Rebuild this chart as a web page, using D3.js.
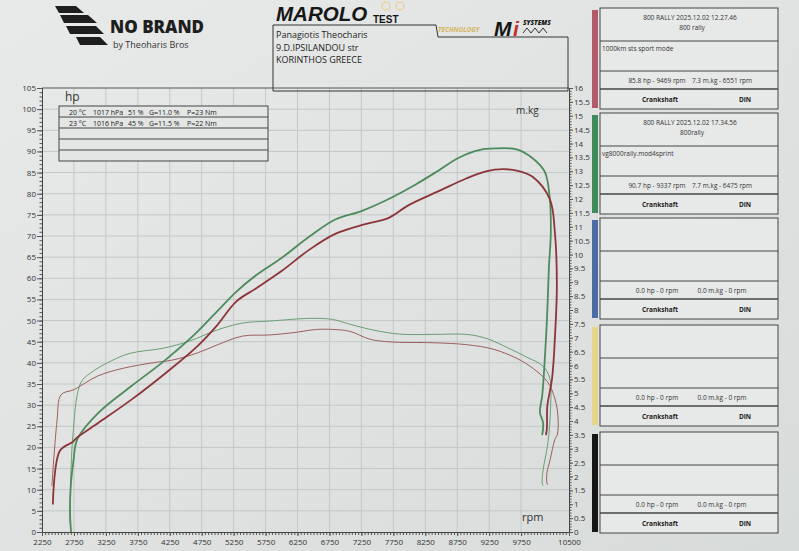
<!DOCTYPE html>
<html>
<head>
<meta charset="utf-8">
<script src="https://cdn.jsdelivr.net/npm/d3@7"></script>
<style>
body{margin:0;background:#dfe2e1;}
svg{display:block;font-family:"Open Sans",sans-serif;}
</style>
</head>
<body>
<svg id="chart" width="799" height="551"></svg>
<script>
// rpm / hp, run 1 (red) and run 2 (green)
const redPower = [[2420,6.5],[2530,19.2],[2730,21.3],[2805,22.4],[3140,25.9],[3650,31.3],[4260,38.5],[4680,43.9],[4980,48.7],[5290,54.5],[5600,57.6],[6000,61.7],[6420,66.6],[6840,70.5],[7310,72.8],[7680,74.3],[7990,77.3],[8460,80.6],[8890,83.6],[9200,85.3],[9469,85.8],[9700,85.4],[9930,84.0],[10200,78.7],[10280,70.6],[10310,58.3],[10280,46.1],[10235,36.3],[10160,29.7],[10155,24.8],[10140,22.9]];
const greenPower = [[2705,0],[2688,4.8],[2700,10.9],[2740,16.5],[2805,22.0],[3140,28.3],[3640,34.4],[4150,40.3],[4610,46.3],[4980,52.0],[5290,56.8],[5600,60.7],[6000,64.8],[6420,69.7],[6840,73.9],[7250,75.9],[7630,78.4],[8100,82.2],[8460,85.5],[8775,88.5],[9090,90.3],[9337,90.7],[9680,90.5],[9930,88.4],[10120,85.2],[10200,78.7],[10215,70.6],[10185,62.5],[10155,50.3],[10110,38.1],[10080,32.2],[10045,28.3],[10095,25.8],[10080,22.9]];
// rpm / m.kg
const redTorque = [[2405,1.65],[2485,4.0],[2550,4.95],[2750,5.13],[3120,5.62],[3520,5.9],[3990,6.1],[4300,6.2],[4680,6.45],[4990,6.74],[5390,7.06],[5810,7.1],[6175,7.18],[6551,7.3],[6800,7.3],[7070,7.23],[7380,6.95],[7700,6.85],[8370,6.82],[8900,6.75],[9310,6.59],[9690,6.25],[9940,5.89],[10160,5.42],[10280,4.8],[10330,4.07],[10315,3.49],[10280,3.34],[10205,2.61],[10155,2.13],[10155,1.76],[10170,1.7]];
const greenTorque = [[2690,0.3],[2728,3.3],[2858,5.38],[3010,5.73],[3320,6.15],[3630,6.44],[4140,6.62],[4560,6.88],[4980,7.27],[5390,7.53],[5810,7.6],[6475,7.7],[6800,7.66],[7066,7.49],[7430,7.28],[7850,7.13],[8370,7.12],[8900,7.12],[9215,6.97],[9530,6.65],[9840,6.3],[10090,5.98],[10200,5.53],[10210,4.43],[10170,3.22],[10095,2.24],[10080,1.77],[10095,1.67]];

const rpmLabels = [2250,2750,3250,3750,4250,4750,5250,5750,6250,6750,7250,7750,8250,8750,9250,9750,10500];
const hpLabels = d3.range(0,106,5);
const kgLabels = d3.range(0,16.01,0.5);

const weather = [["20 °C","1017 hPa","51 %","G=11.0 %","P=23 Nm"],["23 °C","1016 hPa","45 %","G=11.5 %","P=22 Nm"],[],[],[]];
const address = ["Panagiotis Theocharis","9.D.IPSILANDOU str","KORINTHOS GREECE"];

const panelColors = ['#b25a68','#3f8c58','#4a6da6','#e6d68c','#161616'];
const panelTitles = ['800 RALLY    2025.12.02 12.27.46','800 RALLY    2025.12.02 17.34.56','','',''];
const panelSubs = ['800 rally','800rally','','',''];
const panelNotes = ['1000km sts sport mode','vg8000rally.mod4sprint','','',''];
const panelHp = ['85.8 hp - 9469 rpm','90.7 hp - 9337 rpm','0.0 hp - 0 rpm','0.0 hp - 0 rpm','0.0 hp - 0 rpm'];
const panelKg = ['7.3 m.kg - 6551 rpm','7.7 m.kg - 6475 rpm','0.0 m.kg - 0 rpm','0.0 m.kg - 0 rpm','0.0 m.kg - 0 rpm'];

const width = 799, height = 551;
const L = 42, R = 569, T = 88, B = 532;
let svg = d3.select('#chart');

let grad = svg.append('defs').append('linearGradient').attr('id','paper')
    .attr('x1',0).attr('y1',0).attr('x2',1).attr('y2',1);
grad.append('stop').attr('offset','0%').attr('stop-color','#e8eae9');
grad.append('stop').attr('offset','100%').attr('stop-color','#d7dbda');
svg.append('rect').attr('width',width).attr('height',height).attr('fill','url(#paper)');

let x = d3.scaleLinear().domain([2250,10500]).range([L,R]);
let yHp = d3.scaleLinear().domain([0,105]).range([B,T]);
let yKg = d3.scaleLinear().domain([0,16]).range([B,T]);

// grid
let grid = svg.append('g').attr('stroke','#c3c8c7').attr('stroke-width',1);
grid.selectAll('.vg').data(rpmLabels.slice(1,-1)).enter().append('line')
    .attr('x1',d=>x(d)).attr('x2',d=>x(d)).attr('y1',T).attr('y2',B);
grid.selectAll('.hg').data(hpLabels.slice(1,-1)).enter().append('line')
    .attr('x1',L).attr('x2',R).attr('y1',d=>yHp(d)).attr('y2',d=>yHp(d));
svg.append('line').attr('x1',L).attr('x2',R).attr('y1',T).attr('y2',T).attr('stroke','#555');

// axes
function styleAxis(g){
    g.select('.domain').attr('stroke','#444');
    g.selectAll('.tick line').attr('stroke','#555');
    g.selectAll('text').attr('fill','#333').style('font-size','8px').style('font-family','"Open Sans",sans-serif');
}
svg.append('g').attr('transform',`translate(${L},0)`)
    .call(d3.axisLeft(yHp).tickValues(d3.range(0,106,1)).tickSize(2.5).tickFormat(''))
    .call(styleAxis);
svg.append('g').attr('transform',`translate(${L},0)`)
    .call(d3.axisLeft(yHp).tickValues(hpLabels).tickSize(5).tickPadding(1).tickFormat(d=>d))
    .call(styleAxis);
svg.append('g').attr('transform',`translate(${R},0)`)
    .call(d3.axisRight(yKg).tickValues(d3.range(0,16.01,0.1)).tickSize(2.5).tickFormat(''))
    .call(styleAxis);
svg.append('g').attr('transform',`translate(${R},0)`)
    .call(d3.axisRight(yKg).tickValues(kgLabels).tickSize(4).tickPadding(1).tickFormat(d=>d))
    .call(styleAxis);
svg.append('g').attr('transform',`translate(0,${B})`)
    .call(d3.axisBottom(x).tickValues(d3.range(2250,10501,50)).tickSize(3).tickFormat(''))
    .call(styleAxis);
svg.append('g').attr('transform',`translate(0,${B})`)
    .call(d3.axisBottom(x).tickValues(rpmLabels).tickSize(4).tickPadding(3).tickFormat(d=>d))
    .call(styleAxis);

svg.append('text').attr('x',65).attr('y',101).text('hp').attr('font-size',12).attr('fill','#333');
svg.append('text').attr('x',516).attr('y',114).text('m.kg').attr('font-size',10).attr('fill','#333');
svg.append('text').attr('x',522).attr('y',521).text('rpm').attr('font-size',11).attr('fill','#333');

// curves
let hpLine = d3.line().x(d=>x(d[0])).y(d=>yHp(d[1])).curve(d3.curveCatmullRom.alpha(0.5));
let kgLine = d3.line().x(d=>x(d[0])).y(d=>yKg(d[1])).curve(d3.curveCatmullRom.alpha(0.5));
[[greenTorque,'#6a9f72',1],[redTorque,'#9c5e5a',1],[greenPower,'#4d8b5b',1.8],[redPower,'#8b3538',1.8]]
    .forEach(([data,col,w],i)=>{
        svg.append('path').datum(data)
            .attr('d', i<2 ? kgLine : hpLine)
            .attr('fill','none').attr('stroke',col).attr('stroke-width',w)
            .attr('stroke-linejoin','round');
    });

// weather box
let wb = svg.append('g');
let rowH = 11;
wb.append('rect').attr('x',59).attr('y',106).attr('width',209).attr('height',rowH*weather.length)
    .attr('fill','#e3e6e5').attr('stroke','#444');
weather.forEach((row,i)=>{
    if(i>0) wb.append('line').attr('x1',59).attr('x2',268).attr('y1',106+i*rowH).attr('y2',106+i*rowH).attr('stroke','#444');
    let xs = [69,93,128,149,187];
    row.forEach((t,j)=>wb.append('text').attr('x',xs[j]).attr('y',106+i*rowH+8.5)
        .text(t).attr('font-size',7).attr('fill','#222'));
});

// header: NO BRAND
let nb = svg.append('g').attr('fill','#1e1e1e');
[[[55,6],[76,6],[84,13],[59,13]],[[60,15],[88,15],[97,23],[64,23]],[[66,26],[96,26],[104,34],[70,34]],[[76,37],[100,37],[108,45],[80,45]]]
    .forEach(p=>nb.append('polygon').attr('points',p.join(' ')));
nb.append('text').attr('x',110).attr('y',33).text('NO BRAND')
    .attr('font-size',17).attr('font-weight',800).attr('font-family','"Open Sans",sans-serif');
nb.append('text').attr('x',113).attr('y',48).text('by Theoharis Bros').attr('font-size',9).attr('fill','#333');

// header: MAROLO TEST
let mh = svg.append('g');
mh.append('circle').attr('cx',386).attr('cy',6).attr('r',4).attr('fill','none').attr('stroke','#edd19a').attr('stroke-width',1.5);
mh.append('circle').attr('cx',400).attr('cy',6).attr('r',4).attr('fill','none').attr('stroke','#edd19a').attr('stroke-width',1.5);
mh.append('text').attr('x',276).attr('y',21).text('MAROLO')
    .attr('font-size',20.5).attr('font-weight',900).attr('font-style','italic').attr('fill','#161616')
    .attr('font-family','"Liberation Sans",sans-serif');
mh.append('text').attr('x',373).attr('y',23).text('TEST')
    .attr('font-size',10).attr('font-weight',900).attr('fill','#161616').attr('font-family','"Liberation Sans",sans-serif');
mh.append('text').attr('x',438).attr('y',32).text('TECHNOLOGY')
    .attr('font-size',6.5).attr('font-weight',700).attr('font-style','italic').attr('fill','#d7b55e');
mh.append('text').attr('x',494).attr('y',36).text('M')
    .attr('font-size',21).attr('font-weight',900).attr('font-style','italic').attr('fill','#161616').attr('font-family','"Liberation Sans",sans-serif');
mh.append('text').attr('x',513).attr('y',36).text('i')
    .attr('font-size',21).attr('font-weight',900).attr('font-style','italic').attr('fill','#c0302e').attr('font-family','"Liberation Sans",sans-serif');
mh.append('text').attr('x',523).attr('y',25).text('SYSTEMS')
    .attr('font-size',6.5).attr('font-weight',900).attr('font-style','italic').attr('fill','#161616');
mh.append('path').attr('d','M523,33 l4,-5 l4,5 l4,-5 l4,5 l4,-5 l4,5').attr('fill','none').attr('stroke','#333').attr('stroke-width',1);

svg.append('path').attr('d','M273,25 H436 L438,37 H568 V91 H273 Z').attr('fill','none').attr('stroke','#333');
address.forEach((t,i)=>svg.append('text').attr('x',276).attr('y',38+i*12.5).text(t).attr('font-size',9).attr('fill','#222'));

// right panels
const PX = 600, PW = 178, PH = 101;
const panelTop = [8,113,218,325,432];
panelTop.forEach((top,i)=>{
    let g = svg.append('g');
    g.append('rect').attr('x',592).attr('y',top+2).attr('width',6).attr('height',PH-3).attr('fill',panelColors[i]);
    g.append('rect').attr('x',PX).attr('y',top).attr('width',PW).attr('height',PH).attr('fill','#e7e9e8').attr('stroke','#444');
    [33,63,81].forEach(o=>g.append('line').attr('x1',PX).attr('x2',PX+PW).attr('y1',top+o).attr('y2',top+o)
        .attr('stroke','#444').attr('stroke-width',o===81?1.3:1));
    g.append('text').attr('x',690).attr('y',top+12).attr('text-anchor','middle').text(panelTitles[i]).attr('font-size',6.5).attr('fill','#333');
    g.append('text').attr('x',692).attr('y',top+22).attr('text-anchor','middle').text(panelSubs[i]).attr('font-size',6.5).attr('fill','#333');
    g.append('text').attr('x',602).attr('y',top+43).text(panelNotes[i]).attr('font-size',6.5).attr('fill','#333');
    g.append('text').attr('x',657).attr('y',top+75).attr('text-anchor','middle').text(panelHp[i]).attr('font-size',6.5).attr('fill','#333');
    g.append('text').attr('x',722).attr('y',top+75).attr('text-anchor','middle').text(panelKg[i]).attr('font-size',6.5).attr('fill','#333');
    g.append('text').attr('x',660).attr('y',top+94).attr('text-anchor','middle').text('Crankshaft').attr('font-size',6.5).attr('font-weight',700).attr('fill','#222');
    g.append('text').attr('x',745).attr('y',top+94).attr('text-anchor','middle').text('DIN').attr('font-size',6.5).attr('font-weight',700).attr('fill','#222');
});
</script>
</body>
</html>
